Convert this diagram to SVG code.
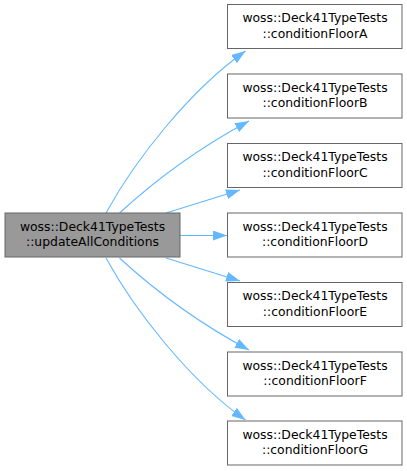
<svg xmlns="http://www.w3.org/2000/svg" width="407" height="471" viewBox="0 0 407 471">
<defs>
<style>
.node rect{fill:#ffffff;stroke:#666666;stroke-width:1}
#main rect{fill:#999999;stroke:#666666}
text{font-family:"DejaVu Sans","Noto Sans",sans-serif;font-size:12.4px;fill:#000000;text-anchor:middle}
.edge{fill:none;stroke:#63b8ff;stroke-width:1.1;marker-end:url(#arr)}
</style>
<marker id="arr" viewBox="0 0 14 10" refX="14" refY="5" markerWidth="14" markerHeight="10" markerUnits="userSpaceOnUse" orient="auto">
<path d="M0,0 L14,5 L0,10 z" fill="#63b8ff"/>
</marker>
</defs>
<rect width="407" height="471" fill="#ffffff"/>
<g id="edges">
<path class="edge" d="M106,213 C135,160 190,90 245.5,51"/>
<path class="edge" d="M119.5,213 C150,185 195,150 249,121"/>
<path class="edge" d="M166,213 C185,207 205,201 240,190"/>
<path class="edge" d="M180,235.5 L227,235.5"/>
<path class="edge" d="M166,258 C185,264 205,270 240,281"/>
<path class="edge" d="M119.5,258 C150,286 195,321 249,350"/>
<path class="edge" d="M106,258 C135,311 190,381 245.5,420"/>
</g>
<g id="main" class="node"><rect x="5" y="213" width="175" height="44"/><text x="92.5" y="230.5">woss::Deck41TypeTests</text><text x="92.5" y="246">::updateAllConditions</text></g>
<g id="nA" class="node"><rect x="227.5" y="4.5" width="174.5" height="44"/><text x="315" y="22">woss::Deck41TypeTests</text><text x="315" y="37.5">::conditionFloorA</text></g>
<g id="nB" class="node"><rect x="227.5" y="74" width="174.5" height="44"/><text x="315" y="91.5">woss::Deck41TypeTests</text><text x="315" y="107">::conditionFloorB</text></g>
<g id="nC" class="node"><rect x="227.5" y="143.5" width="174.5" height="44"/><text x="315" y="161">woss::Deck41TypeTests</text><text x="315" y="176.5">::conditionFloorC</text></g>
<g id="nD" class="node"><rect x="227.5" y="213" width="174.5" height="44"/><text x="315" y="230.5">woss::Deck41TypeTests</text><text x="315" y="246">::conditionFloorD</text></g>
<g id="nE" class="node"><rect x="227.5" y="282.5" width="174.5" height="44"/><text x="315" y="300">woss::Deck41TypeTests</text><text x="315" y="315.5">::conditionFloorE</text></g>
<g id="nF" class="node"><rect x="227.5" y="352" width="174.5" height="44"/><text x="315" y="369.5">woss::Deck41TypeTests</text><text x="315" y="385">::conditionFloorF</text></g>
<g id="nG" class="node"><rect x="227.5" y="421" width="174.5" height="44"/><text x="315" y="438.5">woss::Deck41TypeTests</text><text x="315" y="454">::conditionFloorG</text></g>
</svg>
